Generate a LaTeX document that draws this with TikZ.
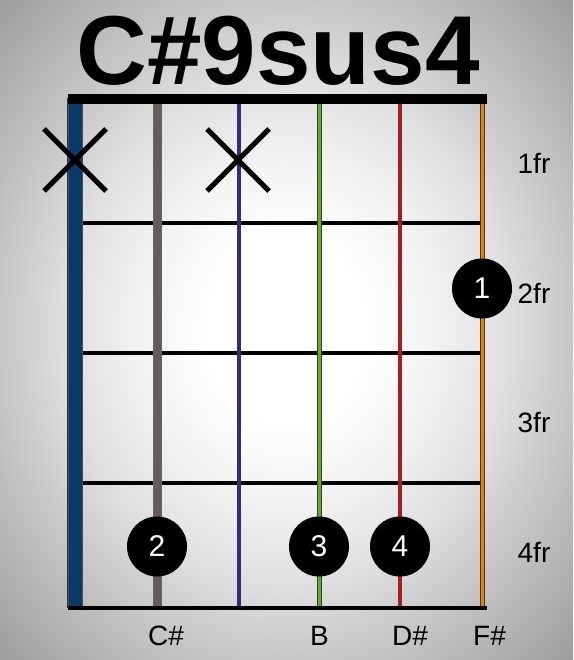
\documentclass[tikz,border=0pt]{standalone}
\usepackage{fontspec}
\setmainfont{Liberation Sans}
\pgfdeclareradialshading{bgshade}{\pgfpoint{0bp}{0bp}}{color(0bp)=(white); color(7bp)=(white); color(13bp)=(black!5); color(19bp)=(black!12); color(25bp)=(black!22); color(35bp)=(black!38); color(50bp)=(black!45)}
\begin{document}
\begin{tikzpicture}[x=1pt,y=-1pt,
  fret/.style={line width=4pt,black},
  xmark/.style={line width=5pt,black},
  dot/.style={circle,fill=black,minimum size=60pt,inner sep=0pt,text=white,font=\fontsize{30}{30}\selectfont},
  frlabel/.style={font=\fontsize{28}{28}\selectfont,text=black},
  notelabel/.style={font=\fontsize{28}{28}\selectfont,text=black,anchor=west,inner sep=0pt}]
\definecolor{sBlue}{RGB}{10,58,105}
\definecolor{sGray}{RGB}{105,90,88}
\definecolor{sPurple}{RGB}{60,40,120}
\definecolor{sGreen}{RGB}{110,160,60}
\definecolor{sRed}{RGB}{165,30,35}
\definecolor{sOrange}{RGB}{215,130,35}
\useasboundingbox (0,0) rectangle (573,660);
\shade[shading=bgshade] (0,0) rectangle (573,660);
% title
\node[font=\bfseries\fontsize{98}{98}\selectfont,inner sep=0pt,anchor=base] (title) at (278,85) {C\#9sus4};
% frame left thin line
\draw[line width=1.2pt,black!80] (68,98) -- (68,608);
% fret lines
\foreach \y in {223,353,483} \draw[fret] (75,\y) -- (482,\y);
% strings
\draw[line width=15pt,black!70] (75,102) -- (75,606);
\draw[line width=13pt,sBlue] (75,102) -- (75,606);
\draw[line width=9pt,black!60] (157,102) -- (157,606);
\draw[line width=7pt,sGray] (157,102) -- (157,606);
\draw[line width=4pt,sPurple] (239,102) -- (239,606);
\draw[line width=5pt,black!55!sGreen] (319,102) -- (319,606);
\draw[line width=3pt,sGreen] (319,102) -- (319,606);
\draw[line width=4pt,sRed] (400,102) -- (400,606);
\draw[line width=5pt,black!60!sOrange] (482,102) -- (482,606);
\draw[line width=3pt,sOrange] (482,102) -- (482,606);
% nut and bottom
\draw[line width=10pt,black] (68,99) -- (487,99);
\draw[line width=4pt,black] (68,608) -- (487,608);
% X marks
\draw[xmark] (44,129) -- (106,191) (44,191) -- (106,129);
\draw[xmark] (207,129) -- (269,191) (207,191) -- (269,129);
% dots
\node[dot] (d1) at (482,288.5) {1};
\node[dot] (d2) at (157,546.5) {2};
\node[dot] (d3) at (319,546.5) {3};
\node[dot] (d4) at (400,546.5) {4};
% fret labels
\node[frlabel] (f1) at (534,163) {1fr};
\node[frlabel] (f2) at (534,293) {2fr};
\node[frlabel] (f3) at (534,423) {3fr};
\node[frlabel] (f4) at (534,552) {4fr};
% note labels
\node[notelabel] (n1) at (148,636) {C\#};
\node[notelabel] (n2) at (310,636) {B};
\node[notelabel] (n3) at (392,636) {D\#};
\node[notelabel] (n4) at (473,636) {F\#};
\end{tikzpicture}
\end{document}
